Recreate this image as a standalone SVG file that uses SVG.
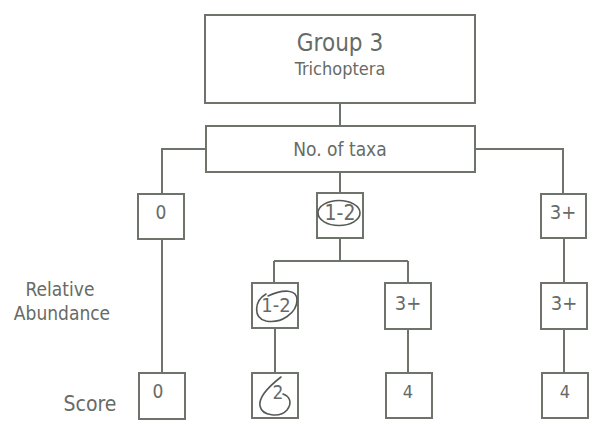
<svg xmlns="http://www.w3.org/2000/svg" width="590" height="421" viewBox="0 0 590 421">
<style>
  .box { fill: #ffffff; stroke: #6e736c; stroke-width: 2; }
  .ln { fill: none; stroke: #6e736c; stroke-width: 2; }
  .hand { fill: none; stroke: #555a54; stroke-width: 1.6; stroke-linecap: round; }
  text { font-family: "DejaVu Sans Condensed", "DejaVu Sans", sans-serif; fill: #676b65; text-anchor: middle; }
  .lbl { font-size: 19px; }
</style>
<rect width="590" height="421" fill="#ffffff"/>
<g id="connectors">
  <path class="ln" d="M340,103 V126"/>
  <path class="ln" d="M206,149 H162 V194"/>
  <path class="ln" d="M475,149 H563 V194"/>
  <path class="ln" d="M340,172 V193"/>
  <path class="ln" d="M162,239 V373"/>
  <path class="ln" d="M340,238 V261 M274,261 H408 M274,261 V283 M408,261 V283"/>
  <path class="ln" d="M564,238 V283"/>
  <path class="ln" d="M275,328 V373"/>
  <path class="ln" d="M408,329 V373"/>
  <path class="ln" d="M564,329 V373"/>
</g>
<g id="group3">
  <rect class="box" x="205" y="15" width="270" height="88"/>
  <text x="340" y="51" font-size="24">Group 3</text>
  <text x="340" y="75" font-size="18">Trichoptera</text>
</g>
<g id="taxa">
  <rect class="box" x="206" y="126" width="269" height="46"/>
  <text x="340" y="156" class="lbl">No. of taxa</text>
</g>
<g id="taxa-0">
  <rect class="box" x="138" y="194" width="46" height="45"/>
  <text x="161" y="219" font-size="19">0</text>
</g>
<g id="taxa-1-2">
  <rect class="box" x="317" y="193" width="46" height="45"/>
  <text x="340" y="220" font-size="21">1-2</text>
  <ellipse class="hand" cx="339" cy="213" rx="21" ry="12.5"/>
</g>
<g id="taxa-3plus">
  <rect class="box" x="541" y="194" width="45" height="44"/>
  <text x="563" y="219" font-size="20">3+</text>
</g>
<g id="abund-1-2">
  <rect class="box" x="252" y="283" width="46" height="45"/>
  <text x="276" y="312" font-size="20">1-2</text>
  <path class="hand" d="M266,294 C254,301 253,318 266,321 C281,324 297,313 297,300 C297,289 283,289 268,296"/>
</g>
<g id="abund-3plus">
  <rect class="box" x="385" y="283" width="46" height="46"/>
  <text x="408" y="310" font-size="20">3+</text>
</g>
<g id="abund-3plus-r">
  <rect class="box" x="541" y="283" width="46" height="46"/>
  <text x="564" y="310" font-size="20">3+</text>
</g>
<g id="score-0">
  <rect class="box" x="139" y="373" width="46" height="46"/>
  <text x="158" y="398" font-size="19">0</text>
</g>
<g id="score-2">
  <rect class="box" x="252" y="373" width="46" height="45"/>
  <text x="278" y="399" font-size="19">2</text>
  <path class="hand" d="M281,377 C272,384 258,396 260,406 C262,416 280,418 287,410 C293,402 289,396 283,394"/>
</g>
<g id="score-4a">
  <rect class="box" x="386" y="373" width="46" height="45"/>
  <text x="408" y="398" font-size="18">4</text>
</g>
<g id="score-4b">
  <rect class="box" x="542" y="373" width="46" height="45"/>
  <text x="565" y="398" font-size="18">4</text>
</g>
<g id="labels">
  <text x="60" y="296" class="lbl">Relative</text>
  <text x="62" y="320" class="lbl">Abundance</text>
  <text x="90" y="411" font-size="21">Score</text>
</g>
</svg>
